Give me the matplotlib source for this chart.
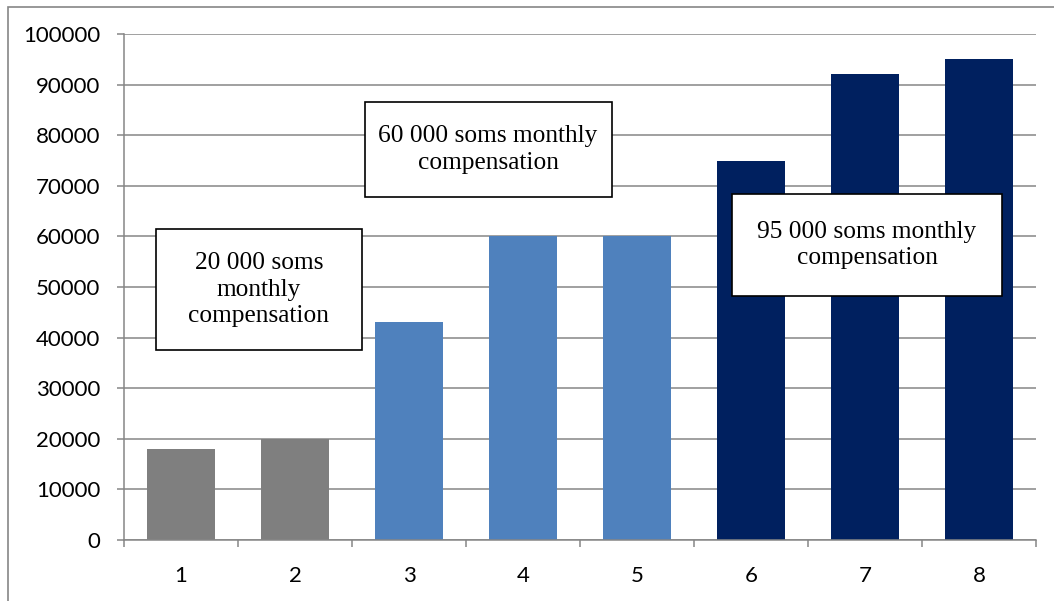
import matplotlib.pyplot as plt
from matplotlib.patches import Rectangle
import matplotlib.ticker as mticker

# bar data
categories = [1, 2, 3, 4, 5, 6, 7, 8]
values = [18000, 20000, 43000, 60000, 60000, 75000, 92000, 95000]
bar_colors = ['#7F7F7F', '#7F7F7F', '#4F81BD', '#4F81BD', '#4F81BD',
              '#00205F', '#00205F', '#00205F']

# annotation boxes: text, (x0, x1) in category units, (y0, y1) in values
notes = ["20 000 soms\nmonthly\ncompensation",
         "60 000 soms monthly\ncompensation",
         "95 000 soms monthly\ncompensation"]
note_x = [(0.78, 2.586), (2.612, 4.777), (5.829, 8.204)]
note_y = [(37550, 61460), (67790, 86560), (48220, 68380)]

grid_col = '#868686'

fig = plt.figure(figsize=(10.54, 6.01), dpi=100)
ax = fig.add_axes([0.1176, 0.1015, 0.8654, 0.8419])

ax.bar(categories, values, width=0.6, color=bar_colors, zorder=2)

ax.set_xlim(0.5, 8.5)
ax.set_ylim(0, 100000)
ax.yaxis.set_major_locator(mticker.MultipleLocator(10000))
ax.grid(axis='y', color=grid_col, linewidth=1.1, zorder=0)
ax.set_axisbelow(True)

# ticks between categories, labels centred
ax.set_xticks([c + 0.5 for c in [0] + categories])
ax.set_xticklabels([])
ax.set_xticks(categories, minor=True)
ax.set_xticklabels([str(c) for c in categories], minor=True)
ax.tick_params(axis='x', which='major', length=5, color=grid_col, width=1.1, direction='out')
ax.tick_params(axis='x', which='minor', length=0, pad=19, labelsize=16)
ax.tick_params(axis='y', length=5, color=grid_col, width=1.1, pad=12, labelsize=16)

for lbl in ax.get_xticklabels(minor=True) + ax.get_yticklabels():
    lbl.set_fontfamily('Lato')

for s in ['top', 'right']:
    ax.spines[s].set_visible(False)
for s in ['left', 'bottom']:
    ax.spines[s].set_color(grid_col)
    ax.spines[s].set_linewidth(1.1)

for txt, (x0, x1), (y0, y1) in zip(notes, note_x, note_y):
    ax.add_patch(Rectangle((x0, y0), x1 - x0, y1 - y0, facecolor='white',
                           edgecolor='black', linewidth=1.2, zorder=4, clip_on=False))
    ax.text((x0 + x1) / 2, (y0 + y1) / 2, txt, ha='center', va='center',
            fontfamily='Liberation Serif', fontsize=18.3, linespacing=1.25, zorder=5)

# outer chart border
fig.patches.append(Rectangle((8 / 1054, -0.05), 1.1, 1 - 7 / 601 + 0.05,
                             transform=fig.transFigure, fill=False,
                             edgecolor=grid_col, linewidth=1.2))

fig.savefig('out.png', dpi=100)
